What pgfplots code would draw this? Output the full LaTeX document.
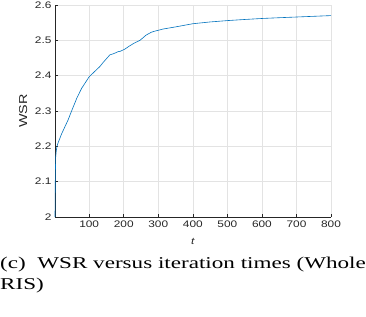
\documentclass[border=0pt]{standalone}
\usepackage{pgfplots}
\pgfplotsset{compat=1.18}
\usepackage{fontspec}
\setmainfont{Liberation Sans}[FakeStretch=1.25]
\newfontfamily\capfont{Liberation Serif}[FakeStretch=1.40]
\definecolor{mblue}{RGB}{0,114,189}
\definecolor{axgray}{RGB}{38,38,38}
\pgfplotstableread{
t v
1 2.000
2 2.120
3 2.170
5 2.190
8 2.205
20 2.235
39 2.275
49 2.300
64 2.336
78 2.364
100 2.397
131 2.426
140 2.437
160 2.459
170 2.462
184 2.468
190 2.469
203 2.475
215 2.483
230 2.492
247 2.500
265 2.515
280 2.523
290 2.526
314 2.532
350 2.538
400 2.547
450 2.552
502 2.556
550 2.559
603 2.562
650 2.564
700 2.566
750 2.568
800 2.570
}\wsr
\begin{document}
\begin{tikzpicture}[x=1pt,y=1pt]
\path[use as bounding box] (0,0) rectangle (366,316);
\begin{axis}[
  at={(55pt,99pt)}, anchor=south west, scale only axis,
  width=276pt, height=212pt,
  xmin=1, xmax=800, ymin=2, ymax=2.6,
  xtick={100,200,300,400,500,600,700,800},
  ytick={2,2.1,2.2,2.3,2.4,2.5,2.6},
  yticklabels={2,2.1,2.2,2.3,2.4,2.5,2.6},
  axis x line*=bottom, axis y line*=left,
  axis line style={-, draw=axgray, line width=0.6pt},
  tick align=inside, major tick length=3pt,
  tick style={axgray, line width=0.5pt},
  grid=major, grid style={gray!22, line width=0.5pt},
  /pgf/number format/assume math mode=true,
  ticklabel style={font=\fontsize{9.5}{11}\selectfont, text=axgray},
  xlabel={\textit{t}}, ylabel={WSR},
  xlabel style={at={(axis description cs:0.5,-0.115)}, anchor=center, font=\fontsize{9.5}{11}\selectfont, text=axgray},
  ylabel style={at={(axis description cs:-0.115,0.5)}, anchor=center, font=\fontsize{11.5}{13}\selectfont, text=axgray},
  clip=false,
]
\addplot[mblue, line width=0.6pt] table[x=t, y=v] {\wsr};
\end{axis}
\node[anchor=base west, inner sep=0pt] at (0,48) {\capfont\fontsize{16.5}{20}\selectfont (c)\hspace{0.35em} WSR versus iteration times (Whole};
\node[anchor=base west, inner sep=0pt] at (0,27) {\capfont\fontsize{16.5}{20}\selectfont RIS)};
\end{tikzpicture}
\end{document}
